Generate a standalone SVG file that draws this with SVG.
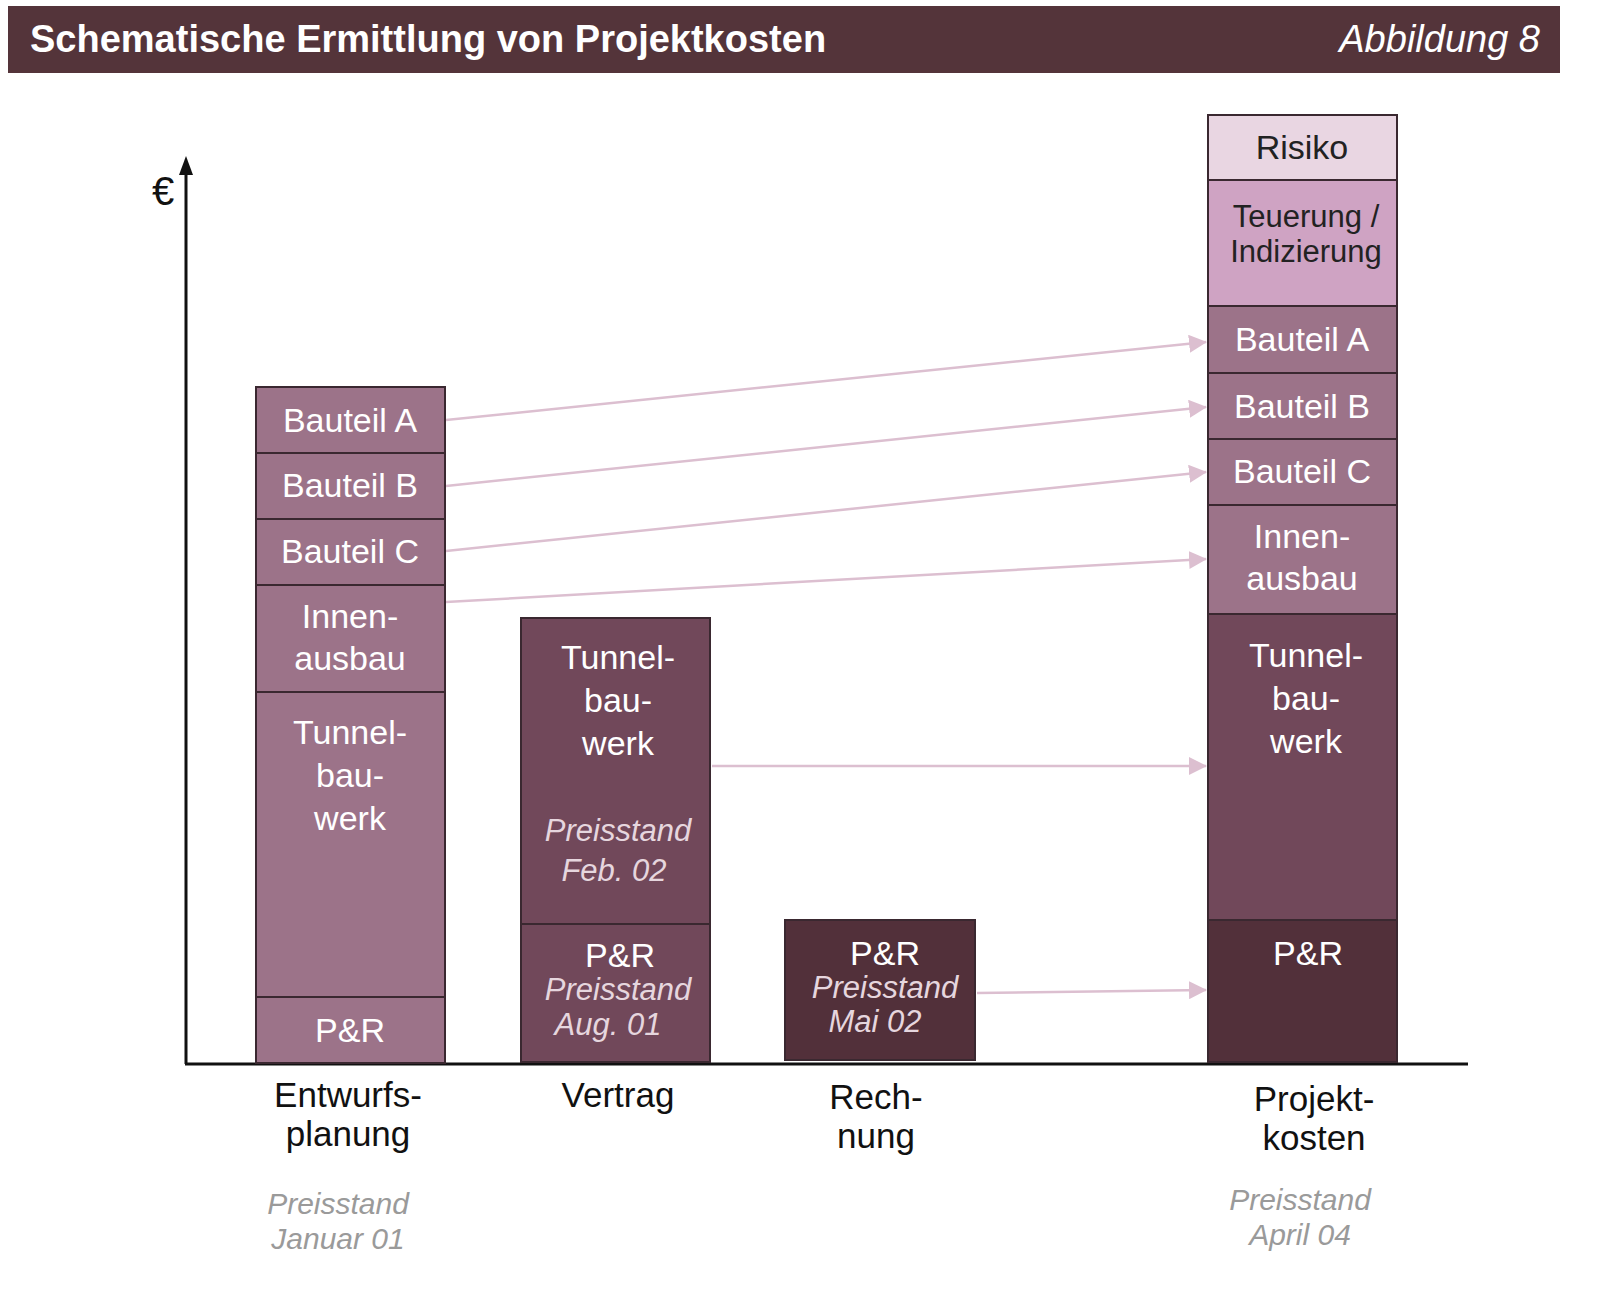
<svg xmlns="http://www.w3.org/2000/svg" width="1623" height="1300" viewBox="0 0 1623 1300">
<defs>
<style>
.b{stroke:#3a2830;stroke-width:2}
.m{fill:#9c7389}.v{fill:#71485a}.d{fill:#52303a}
.t{font-family:"Liberation Sans",Arial,sans-serif;font-size:34px;fill:#fff;text-anchor:middle}
.i{font-family:"Liberation Sans",Arial,sans-serif;font-size:31px;font-style:italic;fill:#e6d6de;text-anchor:middle}
.k{font-family:"Liberation Sans",Arial,sans-serif;font-size:35px;fill:#111;text-anchor:middle}
.g{font-family:"Liberation Sans",Arial,sans-serif;font-size:30px;font-style:italic;fill:#9a9a9a;text-anchor:middle}
.a{stroke:#dcbfd0;stroke-width:2.5;fill:none;marker-end:url(#ah)}
</style>
<marker id="ah" markerWidth="18" markerHeight="18" refX="17" refY="9" orient="auto" markerUnits="userSpaceOnUse" viewBox="0 0 18 18"><path d="M0,0L18,9L0,18z" fill="#dcbfd0"/></marker>
</defs>
<rect width="1623" height="1300" fill="#fff"/>
<g id="header">
<rect x="8" y="6" width="1552" height="67" fill="#54343a"/>
<text x="30" y="52" font-family="Liberation Sans,Arial,sans-serif" font-size="38" font-weight="bold" fill="#fff">Schematische Ermittlung von Projektkosten</text>
<text x="1540" y="52" font-family="Liberation Sans,Arial,sans-serif" font-size="38" font-style="italic" fill="#fff" text-anchor="end">Abbildung 8</text>
</g>
<g id="axes">
<line x1="186" y1="1064" x2="186" y2="170" stroke="#111" stroke-width="3"/>
<path d="M179,175L186,156L193,175z" fill="#111"/>
<line x1="185" y1="1064" x2="1468" y2="1064" stroke="#111" stroke-width="3"/>
<text x="163" y="205" font-family="Liberation Sans,Arial,sans-serif" font-size="40" fill="#111" text-anchor="middle">€</text>
</g>
<g id="connectors">
<line class="a" x1="446" y1="420" x2="1206" y2="342"/>
<line class="a" x1="446" y1="486" x2="1206" y2="407"/>
<line class="a" x1="446" y1="551" x2="1206" y2="472"/>
<line class="a" x1="446" y1="602" x2="1206" y2="559"/>
<line class="a" x1="712" y1="766" x2="1206" y2="766"/>
<line class="a" x1="977" y1="993" x2="1206" y2="990"/>
</g>
<g id="entwurf">
<rect class="b m" x="256" y="387" width="189" height="66"/><text class="t" x="350" y="432">Bauteil A</text>
<rect class="b m" x="256" y="453" width="189" height="66"/><text class="t" x="350" y="497">Bauteil B</text>
<rect class="b m" x="256" y="519" width="189" height="66"/><text class="t" x="350" y="563">Bauteil C</text>
<rect class="b m" x="256" y="585" width="189" height="107"/><text class="t" x="350" y="628">Innen-</text><text class="t" x="350" y="670">ausbau</text>
<rect class="b m" x="256" y="692" width="189" height="305"/><text class="t" x="350" y="744">Tunnel-</text><text class="t" x="350" y="787">bau-</text><text class="t" x="350" y="830">werk</text>
<rect class="b m" x="256" y="997" width="189" height="66"/><text class="t" x="350" y="1042">P&amp;R</text>
<text class="k" x="348" y="1107">Entwurfs-</text><text class="k" x="348" y="1146">planung</text>
<text class="g" x="338" y="1214">Preisstand</text><text class="g" x="338" y="1249">Januar 01</text>
</g>
<g id="vertrag">
<rect class="b v" x="521" y="618" width="189" height="306"/><text class="t" x="618" y="669">Tunnel-</text><text class="t" x="618" y="712">bau-</text><text class="t" x="618" y="755">werk</text>
<text class="i" x="618" y="841">Preisstand</text><text class="i" x="614" y="881">Feb. 02</text>
<rect class="b v" x="521" y="924" width="189" height="138"/><text class="t" x="620" y="967">P&amp;R</text>
<text class="i" x="618" y="1000">Preisstand</text><text class="i" x="608" y="1035">Aug. 01</text>
<text class="k" x="618" y="1107">Vertrag</text>
</g>
<g id="rechnung">
<rect class="b d" x="785" y="920" width="190" height="140"/><text class="t" x="885" y="965">P&amp;R</text>
<text class="i" x="885" y="998">Preisstand</text><text class="i" x="875" y="1032">Mai 02</text>
<text class="k" x="876" y="1109">Rech-</text><text class="k" x="876" y="1148">nung</text>
</g>
<g id="projekt">
<rect class="b" fill="#e9d6e2" x="1208" y="115" width="189" height="65"/><text class="t" style="fill:#222" x="1302" y="159">Risiko</text>
<rect class="b" fill="#cfa3c3" x="1208" y="180" width="189" height="126"/><text class="t" style="fill:#222;font-size:31px" x="1306" y="227">Teuerung /</text><text class="t" style="fill:#222;font-size:31px" x="1306" y="262">Indizierung</text>
<rect class="b m" x="1208" y="306" width="189" height="67"/><text class="t" x="1302" y="351">Bauteil A</text>
<rect class="b m" x="1208" y="373" width="189" height="66"/><text class="t" x="1302" y="418">Bauteil B</text>
<rect class="b m" x="1208" y="439" width="189" height="66"/><text class="t" x="1302" y="483">Bauteil C</text>
<rect class="b m" x="1208" y="505" width="189" height="109"/><text class="t" x="1302" y="548">Innen-</text><text class="t" x="1302" y="590">ausbau</text>
<rect class="b v" x="1208" y="614" width="189" height="306"/><text class="t" x="1306" y="667">Tunnel-</text><text class="t" x="1306" y="710">bau-</text><text class="t" x="1306" y="753">werk</text>
<rect class="b d" x="1208" y="920" width="189" height="142"/><text class="t" x="1308" y="965">P&amp;R</text>
<text class="k" x="1314" y="1111">Projekt-</text><text class="k" x="1314" y="1150">kosten</text>
<text class="g" x="1300" y="1210">Preisstand</text><text class="g" x="1300" y="1245">April 04</text>
</g>
</svg>
